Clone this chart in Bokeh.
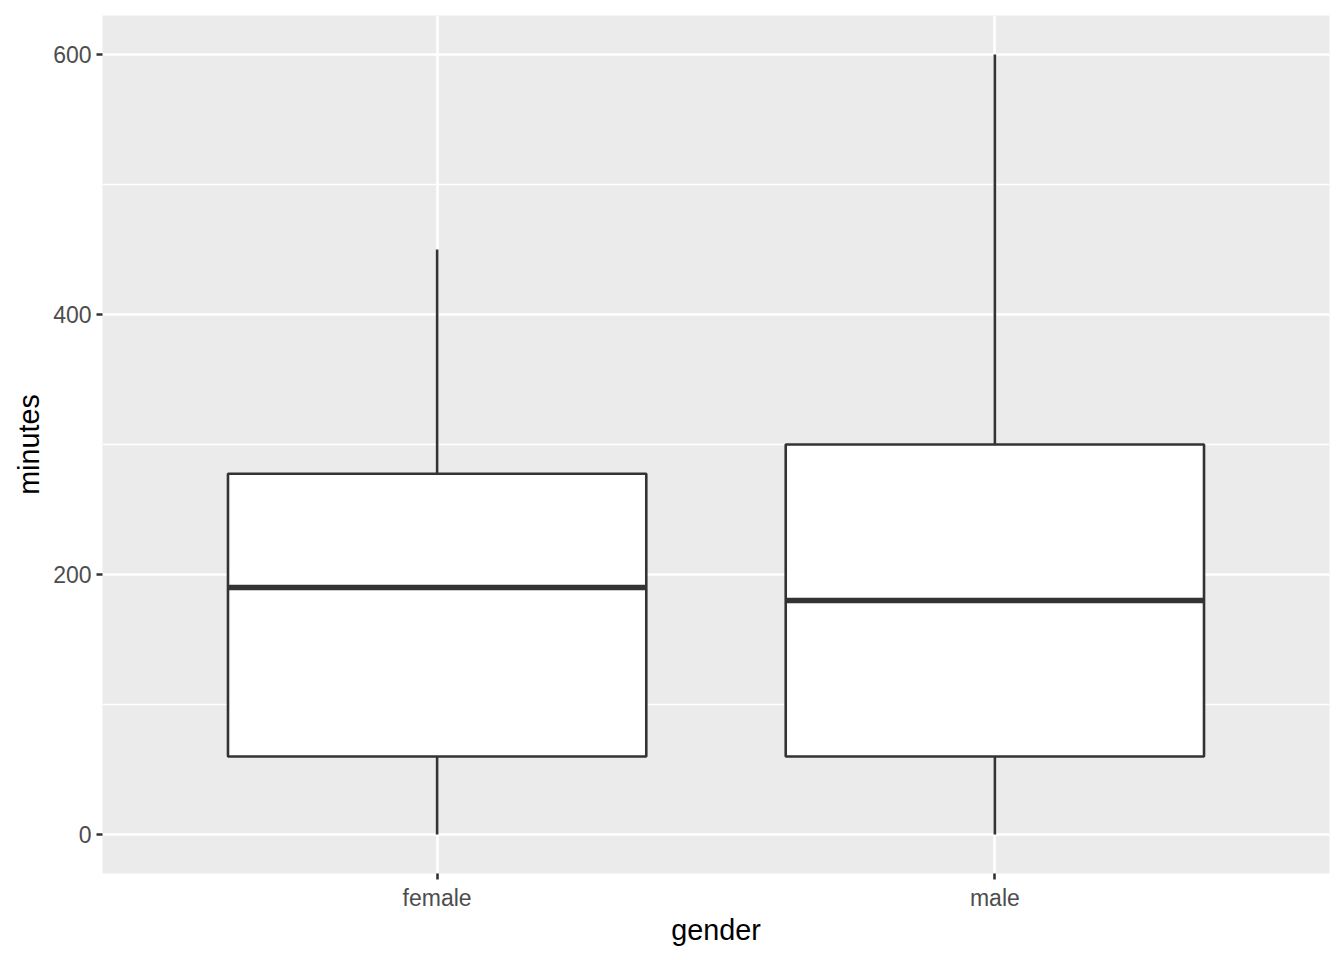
from bokeh.plotting import figure
from bokeh.models import Range1d, FixedTicker, ColumnDataSource
from bokeh.embed import file_html
from bokeh.resources import INLINE

categories = ["female", "male"]
q_min = [0, 0]
q1 = [60, 60]
median = [190, 180]
q3 = [277.5, 300]
q_max = [450, 600]
y_ticks = [0, 200, 400, 600]
y_minor = [100, 300, 500]

xs = [i + 1 for i in range(len(categories))]
src = ColumnDataSource(dict(x=xs, lo=q_min, q1=q1, med=median, q3=q3, hi=q_max,
                            mx0=[x - 0.375 for x in xs], mx1=[x + 0.375 for x in xs]))

p = figure(output_backend="svg", toolbar_location=None,
           frame_width=1227, frame_height=858,
           min_border_left=102, min_border_right=6, min_border_top=15, min_border_bottom=78,
           x_range=Range1d(0.4, 2.6), y_range=Range1d(-30, 630),
           background_fill_color="#EBEBEB", border_fill_color="white")
p.outline_line_color = None

LW = 2.6
# whiskers
p.segment(x0="x", y0="q3", x1="x", y1="hi", source=src, line_color="#333333", line_width=LW)
p.segment(x0="x", y0="lo", x1="x", y1="q1", source=src, line_color="#333333", line_width=LW)
# boxes
p.vbar(x="x", width=0.75, bottom="q1", top="q3", source=src,
       fill_color="white", line_color="#333333", line_width=LW)
# medians
p.segment(x0="mx0", y0="med", x1="mx1", y1="med", source=src, line_color="#333333", line_width=5.5)

# axes
p.xaxis.ticker = FixedTicker(ticks=xs)
p.xaxis.major_label_overrides = {x: c for x, c in zip(xs, categories)}
p.yaxis.ticker = FixedTicker(ticks=y_ticks, minor_ticks=y_minor)

for ax in (p.xaxis[0], p.yaxis[0]):
    ax.axis_line_color = None
    ax.major_tick_line_color = "#333333"
    ax.major_tick_line_width = LW
    ax.major_tick_out = 6
    ax.major_tick_in = 0
    ax.minor_tick_line_color = None
    ax.major_label_text_color = "#4D4D4D"
    ax.major_label_text_font = "Liberation Sans"
    ax.major_label_text_font_size = "23px"
    ax.axis_label_text_font = "Liberation Sans"
    ax.axis_label_text_font_size = "28.75px"
    ax.axis_label_text_font_style = "normal"
    ax.axis_label_text_color = "black"

p.xaxis.axis_label = "gender"
p.yaxis.axis_label = "minutes"
p.xaxis.major_label_standoff = 5
p.yaxis.major_label_standoff = 5
p.xaxis.axis_label_standoff = 0
p.yaxis.axis_label_standoff = 5

p.xgrid.grid_line_color = "white"
p.xgrid.grid_line_width = 2.6
p.ygrid.grid_line_color = "white"
p.ygrid.grid_line_width = 2.6
p.ygrid.minor_grid_line_color = "white"
p.ygrid.minor_grid_line_width = 1.3
p.grid.level = "underlay"

open("out.html", "w").write(file_html(p, INLINE))
